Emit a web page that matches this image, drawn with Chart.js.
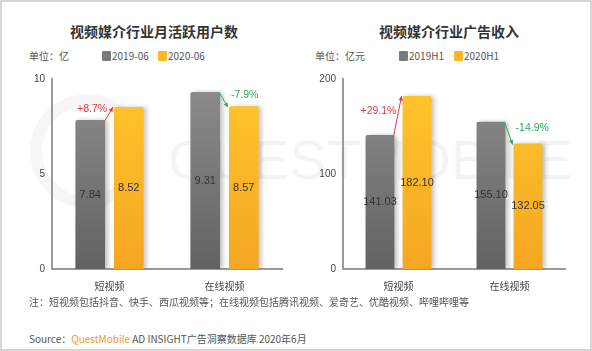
<!DOCTYPE html>
<html><head><meta charset="utf-8">
<script src="https://cdn.jsdelivr.net/npm/chart.js@4"></script>
<style>
html,body{margin:0;padding:0;background:#fff;}
#wrap{position:relative;width:592px;height:351px;box-sizing:border-box;border:2px solid #d6d6d6;overflow:hidden;font-family:"Noto Sans CJK SC","Noto Sans",sans-serif;}
.t{position:absolute;white-space:nowrap;}
.title{font-size:14px;font-weight:bold;color:#333;top:19px;}
.unit{font-size:10px;color:#555;top:46px;}
.lg{font-size:10px;color:#555;top:46px;}
.sw{display:inline-block;width:9px;height:10px;vertical-align:-1px;margin-right:1px;border-radius:1px;}
.wm{position:absolute;font-family:"Liberation Sans",sans-serif;font-size:56px;line-height:56px;font-weight:normal;color:rgba(0,0,0,0.045);letter-spacing:0px;top:130px;left:166px;}
.ring{position:absolute;box-sizing:border-box;border-radius:50%;border:12px solid rgba(0,0,0,0.035);}
canvas{position:absolute;}
</style></head>
<body><div id="wrap">
<div class="ring" style="left:28px;top:92px;width:114px;height:114px;"></div>
<div class="wm">QUESTMOBILE</div>
<div class="t title" style="left:68px;">视频媒介行业月活跃用户数</div>
<div class="t title" style="left:377px;">视频媒介行业广告收入</div>
<div class="t unit" style="left:27px;">单位：亿</div>
<div class="t lg" style="left:100px;"><span class="sw" style="background:#7a7a7a"></span>2019-06</div>
<div class="t lg" style="left:156px;"><span class="sw" style="background:#fbb726"></span>2020-06</div>
<div class="t unit" style="left:313px;">单位：亿元</div>
<div class="t lg" style="left:397px;"><span class="sw" style="background:#7a7a7a"></span>2019H1</div>
<div class="t lg" style="left:452px;"><span class="sw" style="background:#fbb726"></span>2020H1</div>
<canvas id="c1" width="296" height="240" style="left:0;top:60px;width:296px;height:240px;"></canvas>
<canvas id="c2" width="296" height="240" style="left:296px;top:60px;width:296px;height:240px;"></canvas>
<div class="t" style="left:27px;top:292px;font-size:10px;color:#555;">注：短视频包括抖音、快手、西瓜视频等；在线视频包括腾讯视频、爱奇艺、优酷视频、哔哩哔哩等</div>
<div class="t" style="left:27px;top:329px;font-size:10px;color:#555;">Source：<span style="color:#f39a1e">QuestMobile</span> AD INSIGHT广告洞察数据库 2020年6月</div>
</div>
<script>
const categories = ['短视频', '在线视频'];
const mauSeriesNames = ['2019-06', '2020-06'];
const mau2019 = [7.84, 9.31];
const mau2020 = [8.52, 8.57];
const mauChange = ['+8.7%', '-7.9%'];
const mauTicks = [0, 5, 10];
const adSeriesNames = ['2019H1', '2020H1'];
const ad2019 = [141.03, 155.10];
const ad2020 = [182.10, 132.05];
const adChange = ['+29.1%', '-14.9%'];
const adTicks = [0, 100, 200];

function grad(ctx, area, top, bot){
  const g = ctx.createLinearGradient(0, area.top, 0, area.bottom);
  g.addColorStop(0, top); g.addColorStop(1, bot); return g;
}
const grayFill = c => { const a=c.chart.chartArea; return a ? grad(c.chart.ctx,a,'#8e8e8e','#626262') : '#777'; };
const yellowFill = c => { const a=c.chart.chartArea; return a ? grad(c.chart.ctx,a,'#ffc72c','#f5a622') : '#fbb726'; };

const shadowPlugin = {
  id:'shadow',
  beforeDatasetsDraw(chart){ const c=chart.ctx; c.save(); c.shadowColor='rgba(0,0,0,0.22)'; c.shadowOffsetX=3; c.shadowOffsetY=0; c.shadowBlur=4; },
  afterDatasetsDraw(chart){ chart.ctx.restore(); }
};
const labelPlugin = {
  id:'labels',
  afterDatasetsDraw(chart, args, opts){
    const ctx = chart.ctx;
    ctx.save();
    ctx.font = '11px "Liberation Sans", Arial, sans-serif';
    ctx.fillStyle = '#333'; ctx.textAlign='center'; ctx.textBaseline='middle';
    chart.data.datasets.forEach((ds, di) => {
      chart.getDatasetMeta(di).data.forEach((bar, i) => {
        ctx.fillText(ds.data[i].toFixed(2), bar.x, (bar.y + bar.base)/2);
      });
    });
    const m0 = chart.getDatasetMeta(0).data, m1 = chart.getDatasetMeta(1).data;
    opts.changes.forEach((txt, i) => {
      const a = m0[i], b = m1[i];
      const up = txt.trim()[0] === '+';
      const col = up ? '#e8343c' : '#2fa85a';
      const x1 = a.x + a.width/2 - 1, y1 = a.y + (up ? 2 : 0);
      const x2 = b.x - b.width/2 - 1, y2 = b.y + (up ? 0 : 1);
      ctx.strokeStyle = col; ctx.fillStyle = col; ctx.lineWidth = 1;
      ctx.beginPath(); ctx.moveTo(x1, y1); ctx.lineTo(x2, y2); ctx.stroke();
      const ang = Math.atan2(y2 - y1, x2 - x1);
      ctx.beginPath(); ctx.moveTo(x2, y2);
      ctx.lineTo(x2 - 5*Math.cos(ang - 0.45), y2 - 5*Math.sin(ang - 0.45));
      ctx.lineTo(x2 - 5*Math.cos(ang + 0.45), y2 - 5*Math.sin(ang + 0.45));
      ctx.closePath(); ctx.fill();
      ctx.font = '10.5px "Liberation Sans", Arial, sans-serif';
      const ly = (y1 + y2)/2 - 5;
      if (up) { ctx.textAlign='right'; ctx.fillText(txt, a.x + a.width/2 + 2, ly); }
      else { ctx.textAlign='left'; ctx.fillText(txt, b.x - b.width/2 + 2, ly); }
    });
    ctx.restore();
  }
};

function makeChart(id, names, s1, s2, changes, ticks, yw, padRight, cp, bp){
  const max = ticks[ticks.length-1];
  return new Chart(document.getElementById(id), {
    type:'bar',
    data:{ labels:categories, datasets:[
      {label:names[0], data:s1, backgroundColor:grayFill, borderRadius:{topLeft:2, topRight:2}, borderSkipped:'bottom', categoryPercentage:cp, barPercentage:bp},
      {label:names[1], data:s2, backgroundColor:yellowFill, borderRadius:{topLeft:2, topRight:2}, borderSkipped:'bottom', categoryPercentage:cp, barPercentage:bp}
    ]},
    options:{
      responsive:false, animation:false, devicePixelRatio:1,
      layout:{padding:{top:17, right:padRight, left:0, bottom:0}},
      plugins:{legend:{display:false}, tooltip:{enabled:false}, labels:{changes:changes}},
      scales:{
        x:{ grid:{display:false, drawTicks:false}, border:{color:'#9a9a9a', width:2},
            ticks:{color:'#444', font:{size:10, family:'"Noto Sans CJK SC", sans-serif'}, padding:11},
            afterFit(s){ s.height = 33; } },
        y:{ min:0, max:max, grid:{display:false, drawTicks:false}, border:{color:'#9a9a9a', width:2},
            afterBuildTicks(s){ s.ticks = ticks.map(v => ({value:v})); },
            ticks:{color:'#444', font:{size:10, family:'"Liberation Sans", Arial, sans-serif'}, padding:7},
            afterFit(s){ s.width = yw; } }
      }
    },
    plugins:[shadowPlugin, labelPlugin]
  });
}
makeChart('c1', mauSeriesNames, mau2019, mau2020, mauChange, mauTicks, 50, 16, 0.67, 0.77);
makeChart('c2', adSeriesNames, ad2019, ad2020, adChange, adTicks, 45, 29, 0.667, 0.78);
</script>
</body></html>
